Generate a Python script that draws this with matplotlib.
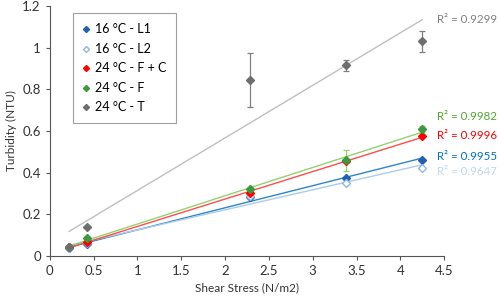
import numpy as np
import matplotlib.pyplot as plt

plt.rcParams['font.family'] = ['Lato', 'DejaVu Sans']

# Shear stress (N/m2)
stress = [0.22, 0.43, 2.28, 3.38, 4.25]

# Turbidity (NTU) per series
l1 = [0.040, 0.055, 0.285, 0.375, 0.460]
l2 = [0.040, 0.060, 0.290, 0.350, 0.420]
fc = [0.045, 0.065, 0.300, 0.455, 0.575]
f = [0.045, 0.085, 0.320, 0.460, 0.610]
t = [0.045, 0.140, 0.845, 0.915, 1.030]

# error bars
err_f = [0.0, 0.0, 0.01, 0.05, 0.015]
err_t = [0.0, 0.0, 0.13, 0.025, 0.05]

labels = ['16 °C - L1', '16 °C - L2', '24 °C - F + C', '24 °C - F', '24 °C - T']
r2_text = ['R² = 0.9955', 'R² = 0.9647', 'R² = 0.9996', 'R² = 0.9982', 'R² = 0.9299']

series = [l1, l2, fc, f, t]
errs = [None, None, None, err_f, err_t]
mk_face = ['#1f5fb4', 'white', '#ff0000', '#3c9a3c', '#6e6e6e']
mk_edge = ['#1f5fb4', '#8fb8e0', '#ff0000', '#3c9a3c', '#6e6e6e']
line_col = ['#2e86c8', '#a9cdeb', '#ff4d4d', '#92d36e', '#bfbfbf']
text_col = ['#0070c0', '#bdd7ee', '#ff0000', '#4ea72e', '#808080']
text_y = [0.476, 0.404, 0.577, 0.668, 1.137]

fig = plt.figure(figsize=(4.98, 3.0), dpi=100)
ax = fig.add_axes([0.1, 0.147, 0.792, 0.833])

xs = np.array(stress)
for i, ys in enumerate(series):
    k, b = np.polyfit(xs, ys, 1)
    ax.plot([xs[0], xs[-1]], [k * xs[0] + b, k * xs[-1] + b], color=line_col[i], lw=1.0, zorder=2)
for i, ys in enumerate(series):
    if errs[i] is not None:
        ax.errorbar(xs, ys, yerr=errs[i], fmt='none', ecolor='#7f7f7f' if i == 4 else '#92d36e',
                    elinewidth=0.9, capsize=2.5, capthick=0.9, zorder=3)
    ax.plot(xs, ys, linestyle='none', marker='D', ms=3.6, mfc=mk_face[i], mec=mk_edge[i],
            mew=1.0, label=labels[i], zorder=4)
    ax.text(4.42, text_y[i], r2_text[i], color=text_col[i], fontsize=8.3,
            ha='left', va='center', clip_on=False)

ax.set_xlim(0, 4.5)
ax.set_ylim(0, 1.2)
ax.set_xticks(np.arange(0, 4.6, 0.5))
ax.set_xticklabels(['0', '0.5', '1', '1.5', '2', '2.5', '3', '3.5', '4', '4.5'])
ax.set_yticks(np.arange(0, 1.21, 0.2))
ax.set_yticklabels(['0', '0.2', '0.4', '0.6', '0.8', '1', '1.2'])
ax.set_xlabel('Shear Stress (N/m2)', fontsize=8.5, color='#333333')
ax.set_ylabel('Turbidity (NTU)', fontsize=8.5, color='#333333')
ax.tick_params(labelsize=9.5, length=3, direction='out', colors='#555555', labelcolor='#333333')
for s in ['top', 'right']:
    ax.spines[s].set_visible(False)
for s in ['left', 'bottom']:
    ax.spines[s].set_color('#555555')

leg = ax.legend(loc='upper left', bbox_to_anchor=(0.042, 0.995), fontsize=9,
                frameon=True, fancybox=False, handlelength=0.6, handletextpad=0.4,
                borderpad=0.8, labelspacing=0.6, markerscale=0.85)
leg.get_frame().set_edgecolor('#888888')
leg.get_frame().set_linewidth(0.8)

fig.savefig('out.png', dpi=100)
